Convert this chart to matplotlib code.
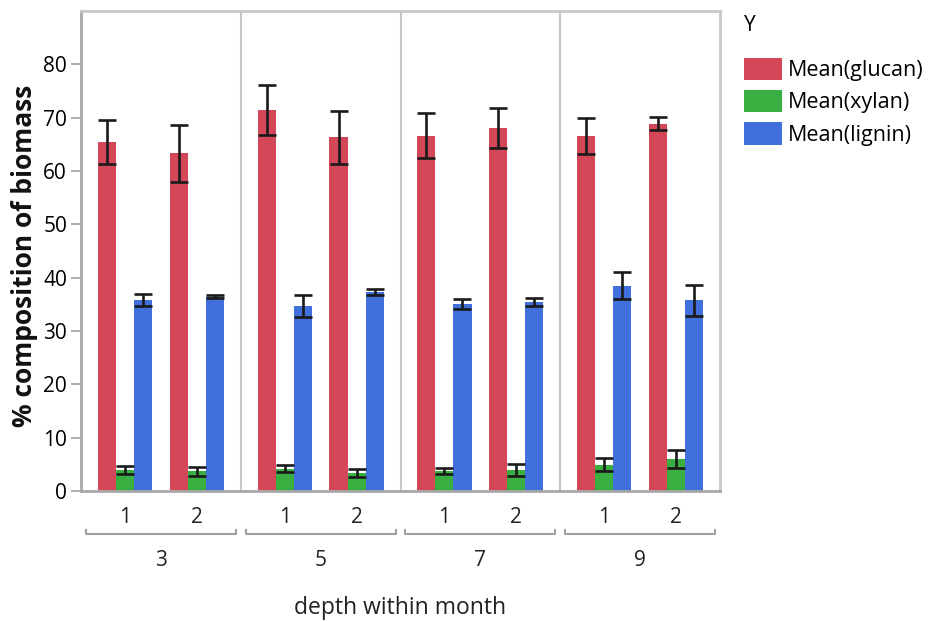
import matplotlib.pyplot as plt
from matplotlib.lines import Line2D
import numpy as np

# data
months = ["3", "5", "7", "9"]
depths = ["1", "2"]
series = ["Mean(glucan)", "Mean(xylan)", "Mean(lignin)"]

glucan = [65.4, 63.3, 71.5, 66.3, 66.6, 68.1, 66.6, 68.9]
glucan_err = [4.1, 5.3, 4.7, 4.9, 4.2, 3.8, 3.4, 1.3]
xylan = [3.9, 3.7, 4.2, 3.4, 3.8, 3.9, 4.9, 6.0]
xylan_err = [0.7, 0.8, 0.7, 0.7, 0.6, 1.1, 1.2, 1.6]
lignin = [35.8, 36.4, 34.7, 37.3, 35.1, 35.4, 38.5, 35.8]
lignin_err = [1.2, 0.3, 2.0, 0.5, 0.9, 0.8, 2.5, 2.9]

colors = ["#D44759", "#3AAF41", "#4170DD"]

plt.rcParams["font.family"] = ["Open Sans", "DejaVu Sans"]

fig = plt.figure(figsize=(9.38, 6.21), dpi=100)
ax = fig.add_axes([81 / 938, 130 / 621, 639 / 938, 480 / 621])

offsets = [0.275, 0.725]
bw = 0.113
centers = np.array([m + o for m in range(len(months)) for o in offsets])

vals = [glucan, xylan, lignin]
errs = [glucan_err, xylan_err, lignin_err]
for k in range(3):
    x = centers + (k - 1) * bw
    ax.bar(x, vals[k], width=bw, color=colors[k], label=series[k], zorder=2)
    ax.errorbar(x, vals[k], yerr=errs[k], fmt="none", ecolor="#1a1a1a",
                elinewidth=1.9, capsize=6.5, capthick=1.9, zorder=3)

ax.set_xlim(0, len(months))
ax.set_ylim(0, 90)
ax.set_yticks(range(0, 90, 10))
ax.tick_params(axis="y", length=7, width=1.2, color="#a0a0a0", labelsize=15,
               pad=3)
ax.set_xticks([])

for s in ["left", "bottom"]:
    ax.spines[s].set_color("#a8a8a8")
    ax.spines[s].set_linewidth(2)
for s in ["top", "right"]:
    ax.spines[s].set_color("#c8c8c8")
    ax.spines[s].set_linewidth(2)

for m in range(1, len(months)):
    ax.axvline(m, color="#c8c8c8", lw=1.5, zorder=1)

trans = ax.get_xaxis_transform()
for i, m in enumerate(months):
    for j, d in enumerate(depths):
        ax.text(i + offsets[j], -0.055, d, transform=trans, ha="center",
                va="center", fontsize=15, color="#222222")
    x0, x1 = i + 0.03, i + 0.97
    ax.add_line(Line2D([x0, x0, x1, x1], [-0.082, -0.09, -0.09, -0.082],
                       transform=trans, color="#a0a0a0", lw=1.5, clip_on=False))
    ax.text(i + 0.5, -0.145, m, transform=trans, ha="center", va="center",
            fontsize=15, color="#222222")

ax.text(0.5, -0.243, "depth within month", transform=ax.transAxes,
        ha="center", va="center", fontsize=16.5, color="#222222")
ax.text(-0.088, 0.49, "% composition of biomass", transform=ax.transAxes,
        rotation=90, ha="center", va="center", fontsize=19,
        fontweight="bold", color="#111111")

leg = ax.legend(loc="upper left", bbox_to_anchor=(1.02, 1.015),
                frameon=False, borderpad=0, title="Y", fontsize=15.5,
                title_fontsize=15, handlelength=1.8, handleheight=1.2,
                handletextpad=0.25, labelspacing=0.42, alignment="left")
leg._legend_box.sep = 16

plt.savefig("out.png")
